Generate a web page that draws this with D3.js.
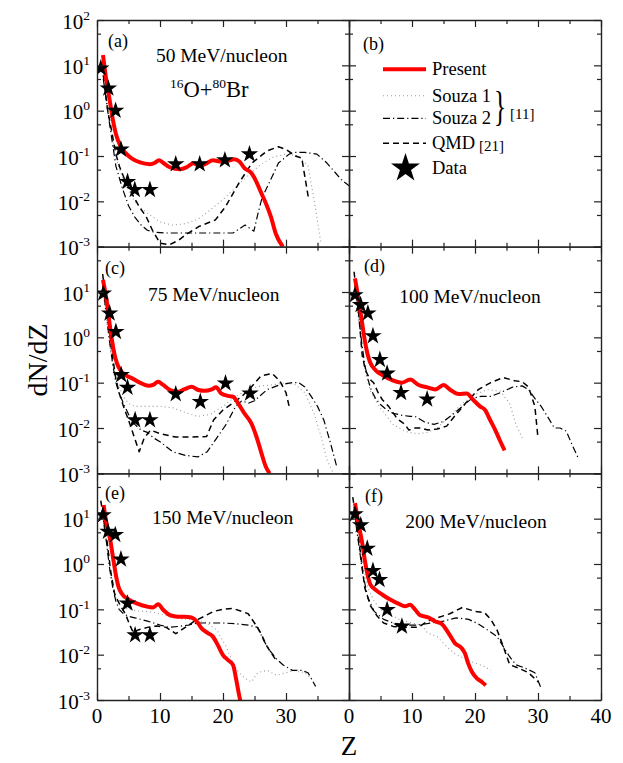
<!DOCTYPE html>
<html><head><meta charset="utf-8">
<script src="https://cdn.jsdelivr.net/npm/d3@7/dist/d3.min.js"></script>
<style>
body{margin:0;background:#fff}
svg{display:block}
text{font-family:"Liberation Serif","Times New Roman",serif;fill:#000}
</style>
</head><body>
<svg id="chart" width="623" height="763"></svg>
<script>
// ---------- data ----------
const panelLabels = ["(a)","(b)","(c)","(d)","(e)","(f)"];
const energyLabels = ["50 MeV/nucleon","","75 MeV/nucleon","100 MeV/nucleon","150 MeV/nucleon","200 MeV/nucleon"];
const yMajorTicks = [1e-3,1e-2,1e-1,1,10,100];
const yTickExps = ["-3","-2","-1","0","1","2"];
const yMinorTicks = [5e-3,5e-2,0.5,5,50];
const xMajorTicks = [0,10,20,30,40];
const xMinorTicks = [5,15,25,35];
const xLabelsLeft = [0,10,20,30];
const xLabelsRight = [0,10,20,30,40];
const legendNames = ["Present","Souza 1","Souza 2","QMD","Data"];

// panel (a) 50 MeV/nucleon
const presentA = [[0.95,17],[1.47,4.8],[2.0,1.74],[2.53,0.62],[3.05,0.29],[3.7,0.17],[4.5,0.117],[5.5,0.089],[6.84,0.072],[8.4,0.066],[9.2,0.071],[9.84,0.081],[10.5,0.071],[11.6,0.056],[13.2,0.051],[14.2,0.056],[15.3,0.069],[16.3,0.060],[17.4,0.069],[18.4,0.081],[19.5,0.076],[20.8,0.079],[21.8,0.085],[22.6,0.076],[23.4,0.054],[24.5,0.042],[25.3,0.027],[26.1,0.015],[26.8,0.0091],[27.6,0.0046],[28.4,0.0019],[29.5,0.001]];
const souza1A = [[1.0,6],[2.0,0.6],[3.0,0.09],[4.0,0.035],[5.0,0.018],[6.0,0.01],[7.0,0.007],[8.0,0.0055],[10,0.0035],[12,0.003],[14,0.0032],[16,0.004],[18,0.0065],[20,0.011],[22,0.02],[24,0.038],[26,0.065],[28,0.095],[30,0.11],[32,0.1],[33.5,0.06],[34.5,0.01],[35.5,0.0013]];
const souza2A = [[1.0,5],[2.0,0.5],[3.0,0.06],[4.0,0.02],[5.0,0.008],[6.0,0.0045],[7.0,0.003],[8.0,0.0023],[9.0,0.0021],[11,0.002],[14,0.002],[17,0.002],[21.6,0.002],[23.5,0.003],[24.9,0.0022],[25.5,0.005],[26.2,0.012],[27.3,0.025],[28.8,0.07],[30.5,0.11],[31.5,0.12],[33,0.12],[34.9,0.11],[36.5,0.07],[38.8,0.03],[40,0.022]];
const qmdA = [[1.0,6],[1.7,1],[2.3,0.37],[3.0,0.11],[3.6,0.057],[4.4,0.03],[5.2,0.018],[6.7,0.0076],[7.8,0.0046],[8.8,0.0023],[10.0,0.0012],[11.5,0.0011],[13.0,0.0014],[14.0,0.0018],[16.2,0.0028],[18.8,0.0039],[20.4,0.0076],[22.5,0.025],[24.6,0.07],[27.0,0.13],[28.8,0.16],[30.0,0.14],[31.5,0.1],[32.5,0.09],[33.6,0.011]];
const dataA = [[0.6,8.6],[1.8,3.1],[2.95,1.0],[3.8,0.14],[4.85,0.027],[6.0,0.018],[8.4,0.018],[12.5,0.066],[16.3,0.066],[20.3,0.081],[24.2,0.11]];

// panel (c) 75 MeV/nucleon
const presentC = [[0.95,18.6],[1.6,5.6],[2.0,2.0],[2.37,0.87],[2.74,0.45],[3.16,0.27],[3.7,0.19],[4.5,0.148],[5.5,0.126],[6.8,0.1],[8.2,0.085],[8.9,0.089],[9.7,0.105],[10.5,0.089],[11.6,0.069],[12.9,0.063],[13.9,0.072],[15,0.081],[16.1,0.069],[17.1,0.066],[18.2,0.071],[18.9,0.079],[19.7,0.058],[20.8,0.051],[21.6,0.049],[22.4,0.035],[23.4,0.021],[24.5,0.0126],[25.3,0.0065],[26.1,0.0028],[26.8,0.0014],[27.4,0.001]];
const souza1C = [[0.9,12],[1.5,2.5],[2,0.7],[2.5,0.25],[3,0.12],[3.5,0.08],[4.2,0.05],[5,0.035],[6,0.03],[8,0.03],[10,0.03],[12,0.028],[14,0.022],[16,0.018],[18,0.02],[20,0.03],[22,0.05],[24,0.07],[26,0.085],[28,0.09],[30,0.1],[31.5,0.09],[33,0.06],[34.5,0.02],[35.5,0.007],[36.5,0.002],[37.5,0.001]];
const souza2C = [[0.9,15],[1.5,3],[2,0.8],[2.5,0.25],[3,0.1],[3.5,0.06],[4.2,0.035],[5,0.02],[6,0.012],[7,0.009],[8,0.008],[9,0.006],[10,0.005],[12,0.003],[14,0.0025],[16,0.0023],[17.5,0.003],[19,0.006],[20.5,0.012],[22,0.03],[23,0.04],[24,0.035],[25,0.04],[27,0.07],[29,0.09],[31,0.1],[32,0.1],[33,0.08],[34,0.05],[35,0.03],[36,0.015],[37,0.005],[38,0.0015]];
const qmdC = [[0.9,25],[1.5,5],[2,1.2],[2.5,0.35],[3,0.12],[3.5,0.06],[4.2,0.03],[5,0.015],[5.8,0.007],[6.7,0.003],[7.5,0.006],[8.5,0.009],[10,0.0075],[12.5,0.0063],[15,0.0063],[17.4,0.0065],[18.5,0.015],[20,0.025],[21.5,0.035],[23,0.05],[24.5,0.08],[26,0.14],[27.8,0.16],[29,0.11],[30,0.06],[30.5,0.03]];
const dataC = [[1.0,9.3],[2.0,3.4],[3.0,1.33],[3.84,0.148],[4.84,0.078],[6.05,0.015],[8.4,0.015],[12.5,0.056],[16.4,0.038],[20.4,0.097],[24.3,0.058]];

// panel (d) 100 MeV/nucleon
const presentD = [[0.95,20],[1.7,4.8],[2.1,2.0],[2.5,0.87],[2.9,0.45],[3.4,0.27],[4.2,0.19],[5.3,0.148],[6.8,0.115],[8.4,0.1],[9.7,0.117],[11.05,0.089],[12.4,0.079],[13.7,0.071],[15,0.089],[16.1,0.069],[17.4,0.056],[18.7,0.058],[19.7,0.042],[20.8,0.03],[21.6,0.025],[22.4,0.015],[23.2,0.0091],[23.9,0.0055],[24.7,0.0032]];
const souza1D = [[0.9,12],[1.5,2.5],[2,0.6],[2.5,0.2],[3,0.1],[3.5,0.06],[4.2,0.04],[5,0.027],[6,0.018],[7,0.012],[8.5,0.009],[9.5,0.008],[11,0.0075],[12.5,0.008],[14,0.01],[16,0.018],[18,0.035],[20,0.055],[22,0.07],[24,0.065],[25.5,0.035],[26.5,0.012],[27.5,0.006]];
const souza2D = [[0.9,18],[1.5,3.5],[2,0.8],[2.5,0.25],[3,0.12],[3.5,0.07],[4.2,0.045],[5,0.033],[6,0.025],[7,0.021],[8.5,0.019],[9.7,0.018],[10.5,0.018],[12,0.0135],[13.5,0.012],[15,0.014],[16.5,0.02],[18,0.03],[19.5,0.045],[21,0.05],[22.5,0.05],[24,0.06],[26,0.08],[27.5,0.085],[28.5,0.07],[29.5,0.045],[30.5,0.03],[31.5,0.018],[32.6,0.01],[33.5,0.01],[34.5,0.0085],[35.5,0.004],[36.3,0.0023]];
const qmdD = [[0.8,28],[1.5,4],[2.1,0.4],[2.6,0.19],[3.3,0.12],[3.9,0.1],[4.7,0.057],[5.3,0.042],[6.3,0.03],[7.4,0.018],[7.9,0.015],[8.9,0.012],[9.5,0.009],[10.5,0.01],[11.3,0.01],[12.5,0.009],[14,0.0095],[15.5,0.011],[17,0.02],[18.5,0.035],[20.5,0.07],[22.5,0.1],[24.5,0.13],[26.3,0.11],[27.5,0.105],[28.5,0.08],[29.5,0.03],[30,0.006]];
const dataD = [[0.95,8.6],[1.84,5.2],[3.0,3.4],[3.8,1.07],[4.9,0.32],[6.05,0.16],[8.26,0.06],[12.4,0.043]];

// panel (e) 150 MeV/nucleon
const presentE = [[1.05,20],[1.6,6.6],[2.1,3.4],[2.6,1.23],[3.05,0.52],[3.4,0.32],[3.95,0.22],[5,0.166],[6.3,0.135],[7.9,0.115],[8.9,0.11],[9.7,0.129],[10.5,0.098],[11.6,0.074],[12.9,0.069],[13.9,0.069],[15,0.066],[15.8,0.055],[16.6,0.038],[17.6,0.03],[18.4,0.025],[19.2,0.016],[20,0.0098],[20.8,0.0076],[21.6,0.0059],[22.1,0.0028],[22.6,0.0012],[22.8,0.0009]];
const souza1E = [[0.8,15],[1.5,3],[2,0.9],[2.5,0.35],[3,0.18],[3.5,0.13],[4.2,0.11],[5,0.1],[6,0.095],[7,0.09],[8,0.09],[9,0.085],[10,0.08],[11.5,0.07],[13,0.062],[14.5,0.06],[16,0.058],[17.5,0.05],[19,0.035],[20.5,0.015],[21.5,0.007],[22.5,0.004],[23.5,0.003],[24.5,0.0025],[25.5,0.004],[27,0.0045],[28.5,0.0035],[30,0.004],[31.5,0.0045],[33,0.004],[34.5,0.0025]];
const souza2E = [[0.8,15],[1.5,3],[2,0.8],[2.5,0.3],[3,0.15],[3.5,0.1],[4.2,0.08],[5,0.07],[6,0.065],[7,0.06],[8,0.055],[9,0.05],[10,0.045],[11.5,0.04],[13,0.042],[14.5,0.045],[16,0.05],[18,0.05],[20,0.05],[22,0.048],[24,0.045],[25.5,0.04],[26.5,0.02],[27.5,0.012],[28.5,0.008],[29.5,0.006],[31,0.0045],[32.5,0.0045],[33.5,0.004],[34.7,0.002]];
const qmdE = [[0.6,25],[1.5,4],[2.2,0.65],[2.8,0.22],[3.7,0.12],[4.5,0.08],[5.2,0.045],[5.8,0.03],[6.5,0.035],[8,0.04],[9.5,0.043],[11,0.04],[12.5,0.029],[14,0.04],[15.5,0.055],[17,0.07],[18.5,0.09],[20,0.1],[21.5,0.105],[23,0.09],[24,0.08],[25,0.05],[26,0.03],[27,0.015],[28.3,0.008]];
const dataE = [[0.95,12],[1.74,5.2],[2.9,4.4],[3.8,1.27],[4.84,0.135],[6.05,0.027],[8.4,0.027]];

// panel (f) 200 MeV/nucleon
const presentF = [[0.95,22],[1.6,6.6],[2.1,2.9],[2.5,1.23],[2.9,0.62],[3.4,0.35],[4.2,0.27],[5.3,0.21],[6.6,0.162],[7.9,0.132],[8.9,0.117],[9.7,0.126],[10.5,0.098],[11.3,0.074],[12.6,0.066],[13.7,0.054],[14.7,0.048],[15.8,0.03],[16.8,0.018],[17.9,0.0138],[18.4,0.0107],[18.9,0.0065],[19.5,0.0042],[20.3,0.003],[21.1,0.0025],[21.7,0.0021]];
const souza1F = [[0.8,15],[1.5,3.5],[2.2,0.9],[3,0.3],[4,0.15],[5,0.1],[6,0.08],[8,0.06],[10,0.05],[11.5,0.045],[12.5,0.03],[14,0.025],[15.5,0.015],[17,0.01],[18.5,0.008],[20,0.0065],[21.5,0.0055],[22.5,0.0045]];
const souza2F = [[0.8,15],[1.5,3],[2.2,0.6],[3,0.18],[4,0.09],[5.5,0.06],[7,0.05],[9,0.045],[11,0.045],[13,0.05],[15,0.055],[17,0.065],[19,0.06],[20.5,0.048],[22,0.035],[23.5,0.025],[24.5,0.015],[25.5,0.009],[26.5,0.006],[28,0.005],[29.5,0.004],[30.5,0.0018]];
const qmdF = [[0.6,30],[1.5,4],[2.5,0.3],[3.4,0.12],[4.5,0.07],[5.5,0.05],[7,0.042],[9,0.04],[11,0.04],[12.5,0.055],[14,0.065],[16,0.08],[18,0.11],[20,0.09],[21.5,0.085],[22.5,0.06],[23.5,0.035],[24.5,0.015],[25.5,0.006],[27,0.005],[28.5,0.004],[30,0.0025]];
const dataF = [[0.95,12.6],[1.86,7.2],[2.9,2.2],[3.8,0.71],[4.84,0.45],[6.05,0.098],[8.4,0.042]];

const panelSeries = [
  {present:presentA, souza1:souza1A, souza2:souza2A, qmd:qmdA, data:dataA},
  null,
  {present:presentC, souza1:souza1C, souza2:souza2C, qmd:qmdC, data:dataC},
  {present:presentD, souza1:souza1D, souza2:souza2D, qmd:qmdD, data:dataD},
  {present:presentE, souza1:souza1E, souza2:souza2E, qmd:qmdE, data:dataE},
  {present:presentF, souza1:souza1F, souza2:souza2F, qmd:qmdF, data:dataF}
];

// ---------- layout ----------
const colX = [97, 349], panelW = 252;
const rowY = [20, 246.67, 473.33], panelH = 226.67;
const energyPos = [[124.7,41.7],null,[116.7,54.3],[121,56.7],[125.7,51],[127,55]];
const labelPos = [[11,27],[14,30],[8,27.5],[15,25.5],[8,25.7],[16,28.4]];

const styles = {
  souza1:{stroke:"#9a9a9a", width:1.1, dash:"1,3"},
  souza2:{stroke:"#000", width:1.2, dash:"7,3,1.2,3"},
  qmd:{stroke:"#000", width:1.5, dash:"6,4"},
  present:{stroke:"#ff0000", width:4, dash:null}
};

const svg = d3.select("#chart");
const defs = svg.append("defs");
const star = d3.symbol().type(d3.symbolStar);

panelLabels.forEach((lab, i) => {
  const col = i % 2, row = Math.floor(i / 2);
  const x0 = colX[col], y0 = rowY[row];
  const x = d3.scaleLinear().domain([0,40]).range([x0, x0 + panelW]);
  const y = d3.scaleLog().domain([1e-3,100]).range([y0 + panelH, y0]);
  const g = svg.append("g");

  defs.append("clipPath").attr("id","clip"+i).append("rect")
    .attr("x", x0).attr("y", y0).attr("width", panelW).attr("height", panelH);

  const series = panelSeries[i];
  if (series) {
    const plot = g.append("g").attr("clip-path","url(#clip"+i+")");
    ["souza1","souza2","qmd","present"].forEach(k => {
      const st = styles[k];
      const line = d3.line().x(d => x(d[0])).y(d => y(d[1]))
        .curve(k === "present" ? d3.curveMonotoneX : d3.curveLinear);
      plot.append("path").datum(series[k]).attr("d", line)
        .attr("fill","none").attr("stroke", st.stroke).attr("stroke-width", st.width)
        .attr("stroke-dasharray", st.dash).attr("stroke-linejoin","round");
    });
    plot.selectAll("path.star").data(series.data).join("path").attr("class","star")
      .attr("d", star.size(95)()).attr("fill","#000")
      .attr("transform", d => `translate(${x(d[0])},${y(d[1])})`);
  }

  // axes with inward ticks
  const axes = [
    [d3.axisBottom(x), `translate(0,${y0 + panelH})`, xMajorTicks, xMinorTicks],
    [d3.axisTop(x), `translate(0,${y0})`, xMajorTicks, xMinorTicks],
    [d3.axisLeft(y), `translate(${x0},0)`, yMajorTicks, yMinorTicks],
    [d3.axisRight(y), `translate(${x0 + panelW},0)`, yMajorTicks, yMinorTicks]
  ];
  axes.forEach(([ax, tr, major, minor]) => {
    const a1 = ax.tickValues(major).tickSize(-7).tickSizeOuter(0).tickFormat("");
    const ga = g.append("g").attr("transform", tr).call(a1);
    const a2 = ax.tickValues(minor).tickSize(-4).tickSizeOuter(0).tickFormat("");
    const gb = g.append("g").attr("transform", tr).call(a2);
    gb.select(".domain").remove();
    [ga, gb].forEach(s => {
      s.selectAll("line").attr("stroke","#222").attr("stroke-width",1.2);
      s.selectAll(".domain").attr("stroke","#222").attr("stroke-width",1.4);
    });
  });

  // y tick labels (left column)
  if (col === 0) {
    yMajorTicks.forEach((v, k) => {
      if (row > 0 && v === 100) return;
      const t = g.append("text").attr("x", x0 - 7).attr("y", y(v) + 8.5)
        .attr("text-anchor","end").style("font-size","21px");
      t.append("tspan").text("10");
      t.append("tspan").attr("dy", -9).style("font-size","13.5px").text(yTickExps[k]);
    });
  }
  // x tick labels (bottom row)
  if (row === 2) {
    (col === 0 ? xLabelsLeft : xLabelsRight).forEach(v => {
      g.append("text").attr("x", x(v)).attr("y", y0 + panelH + 23)
        .attr("text-anchor","middle").style("font-size","21px").text(v);
    });
  }

  // panel label
  g.append("text").attr("x", x0 + labelPos[i][0]).attr("y", y0 + labelPos[i][1])
    .style("font-size","18px").text(lab);
  if (energyLabels[i]) {
    g.append("text").attr("x", x0 + energyPos[i][0]).attr("y", y0 + energyPos[i][1])
      .attr("text-anchor","middle").style("font-size","19.5px").text(energyLabels[i]);
  }

  if (i === 0) {
    const t = g.append("text").attr("x", 170).attr("y", 96.7).style("font-size","22.5px");
    t.append("tspan").attr("dy",-9).style("font-size","13.5px").text("16");
    t.append("tspan").attr("dy",9).text("O+");
    t.append("tspan").attr("dy",-9).style("font-size","13.5px").text("80");
    t.append("tspan").attr("dy",9).text("Br");
  }

  if (i === 1) {
    const lx0 = 383, lx1 = 426, tx = 432;
    const rowsY = [69.3, 95.7, 118.3, 143.3, 168.3];
    const keys = ["present","souza1","souza2","qmd"];
    keys.forEach((k, j) => {
      const st = styles[k];
      g.append("line").attr("x1", lx0).attr("x2", lx1).attr("y1", rowsY[j]).attr("y2", rowsY[j])
        .attr("stroke", st.stroke).attr("stroke-width", st.width).attr("stroke-dasharray", st.dash);
    });
    g.append("path").attr("d", star.size(260)()).attr("fill","#000")
      .attr("transform", `translate(${(lx0 + lx1) / 2 + 1},${rowsY[4]})`);
    legendNames.forEach((n, j) => {
      g.append("text").attr("x", tx).attr("y", rowsY[j] + 6).style("font-size","18.5px").text(n);
    });
    g.append("text").attr("transform","translate(494,120) scale(0.6,1)")
      .style("font-size","42px").text("}");
    g.append("text").attr("x", 510).attr("y", 119).style("font-size","15px").text("[11]");
    g.append("text").attr("x", 479).attr("y", 151).style("font-size","15px").text("[21]");
  }
});

// axis titles
svg.append("text").attr("transform","translate(47,360) rotate(-90)")
  .attr("text-anchor","middle").style("font-size","28px").text("dN/dZ");
svg.append("text").attr("x", 349).attr("y", 755)
  .attr("text-anchor","middle").style("font-size","27px").text("Z");
</script>
</body></html>
